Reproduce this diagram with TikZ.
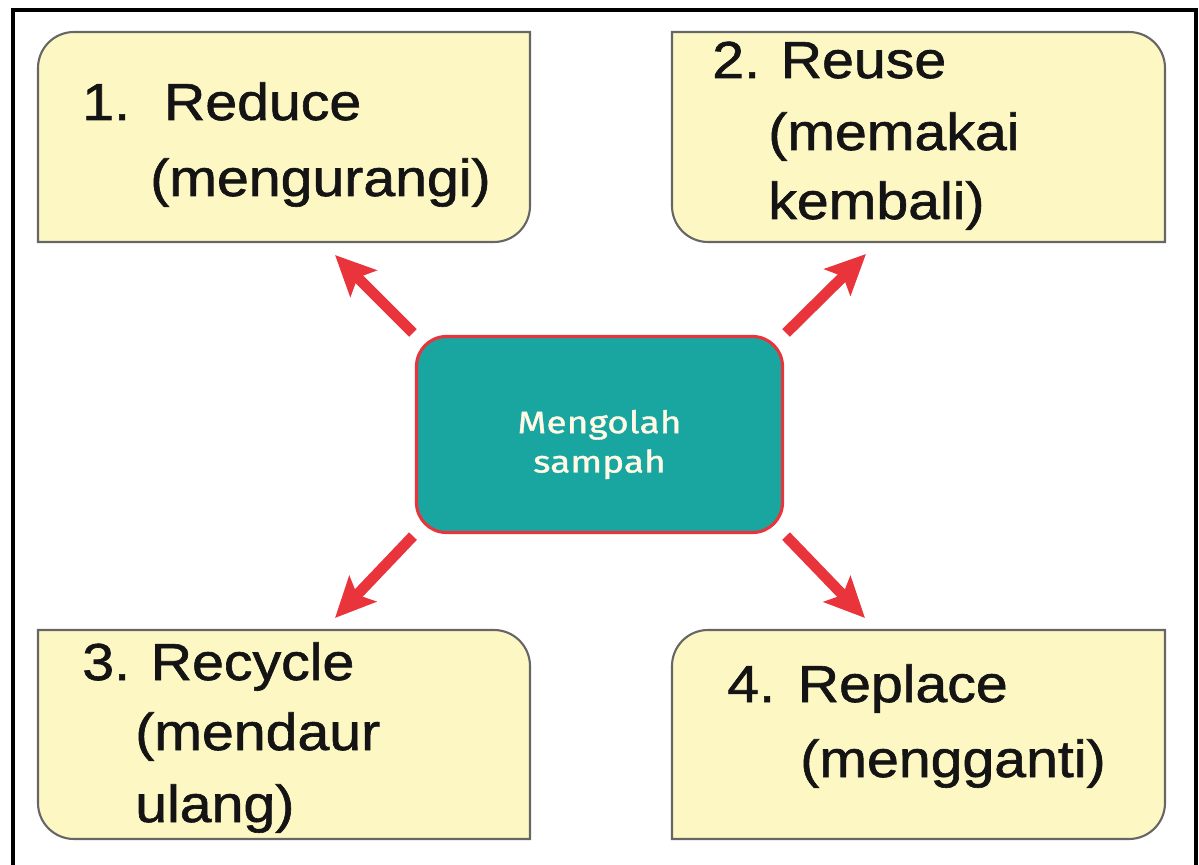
\documentclass[tikz,border=0pt]{standalone}
\usepackage{fontspec}
\setmainfont{Liberation Sans}[FakeStretch=1.1, FakeBold=1.2]
\newfontfamily\hubfont{Fira Sans}[FakeStretch=1.2, FakeBold=1.2]
\usetikzlibrary{arrows.meta, positioning, calc}
\definecolor{boxyellow}{HTML}{FDF7C4}
\definecolor{boxedge}{HTML}{666666}
\definecolor{hubteal}{HTML}{1AA6A0}
\definecolor{arrowred}{HTML}{E9343C}
\definecolor{hubtext}{HTML}{FFF9E6}

\tikzset{
    ybox/.style={fill=boxyellow, draw=boxedge, line width=1.5pt},
    ytext/.style={anchor=base west, inner sep=0pt, text=black!92,
        font=\fontsize{37}{44}\selectfont},
    hub/.style={draw=arrowred, line width=2.2pt, fill=hubteal, rounded corners=0.75cm,
        minimum width=9.15cm, minimum height=4.9cm, align=center, text=hubtext,
        font=\hubfont\fontsize{22}{28}\selectfont},
    redarrow/.style={draw=arrowred, line width=0.27cm, shorten <=2pt,
        -{Stealth[length=1cm, width=0.92cm, inset=0.2cm]}}
}

\begin{document}
\begin{tikzpicture}[x=0.025cm, y=-0.025cm]
    \useasboundingbox (0,0) rectangle (1199,865);

    % frame
    \draw[line width=3.5pt] (13,870) -- (13,10) -- (1196,10) -- (1196,870);

    % yellow boxes
    \draw[ybox] (38,137) [rounded corners=0.9cm] -- (38,32) -- (284,32) [sharp corners] -- (530,32) -- (530,137)
        [rounded corners=0.9cm] -- (530,242) -- (284,242) [sharp corners] -- (38,242) -- cycle;
    \draw[ybox] (672,137) [sharp corners] -- (672,32) -- (918,32) [rounded corners=0.9cm] -- (1165,32) -- (1165,137)
        [sharp corners] -- (1165,242) -- (918,242) [rounded corners=0.9cm] -- (672,242) -- cycle;
    \draw[ybox] (38,734) [sharp corners] -- (38,630) -- (284,630) [rounded corners=0.9cm] -- (530,630) -- (530,734)
        [sharp corners] -- (530,839) -- (284,839) [rounded corners=0.9cm] -- (38,839) -- cycle;
    \draw[ybox] (672,734) [rounded corners=0.9cm] -- (672,630) -- (918,630) [sharp corners] -- (1165,630) -- (1165,734)
        [rounded corners=0.9cm] -- (1165,839) -- (918,839) [sharp corners] -- (672,839) -- cycle;

    \node[ytext] (reduceA) at (82,120) {1.\hspace{0.85cm}Reduce};
    \node[ytext] (reduceB) at (150,196) {(mengurangi)};

    \node[ytext] (reuseA) at (712,78) {2.\hspace{0.52cm}Reuse};
    \node[ytext] (reuseB) at (768,150) {(memakai};
    \node[ytext] (reuseC) at (768,219) {kembali)};

    \node[ytext] (recycleA) at (82,680) {3.\hspace{0.52cm}Recycle};
    \node[ytext] (recycleB) at (135,750) {(mendaur};
    \node[ytext] (recycleC) at (135,822) {ulang)};

    \node[ytext] (replaceA) at (727,702) {4.\hspace{0.57cm}Replace};
    \node[ytext] (replaceB) at (800,777) {(mengganti)};

    % centre
    \node[hub] (hub) at (599.5,434.5) {\rule{0pt}{1.08cm}Mengolah\\sampah};

    \coordinate (tipA) at (335,255);
    \coordinate (tipB) at (866,254);
    \coordinate (tipC) at (335,618);
    \coordinate (tipD) at (865,618);

    \draw[redarrow] (hub.north west) -- (tipA);
    \draw[redarrow] (hub.north east) -- (tipB);
    \draw[redarrow] (hub.south west) -- (tipC);
    \draw[redarrow] (hub.south east) -- (tipD);

\end{tikzpicture}
\end{document}
